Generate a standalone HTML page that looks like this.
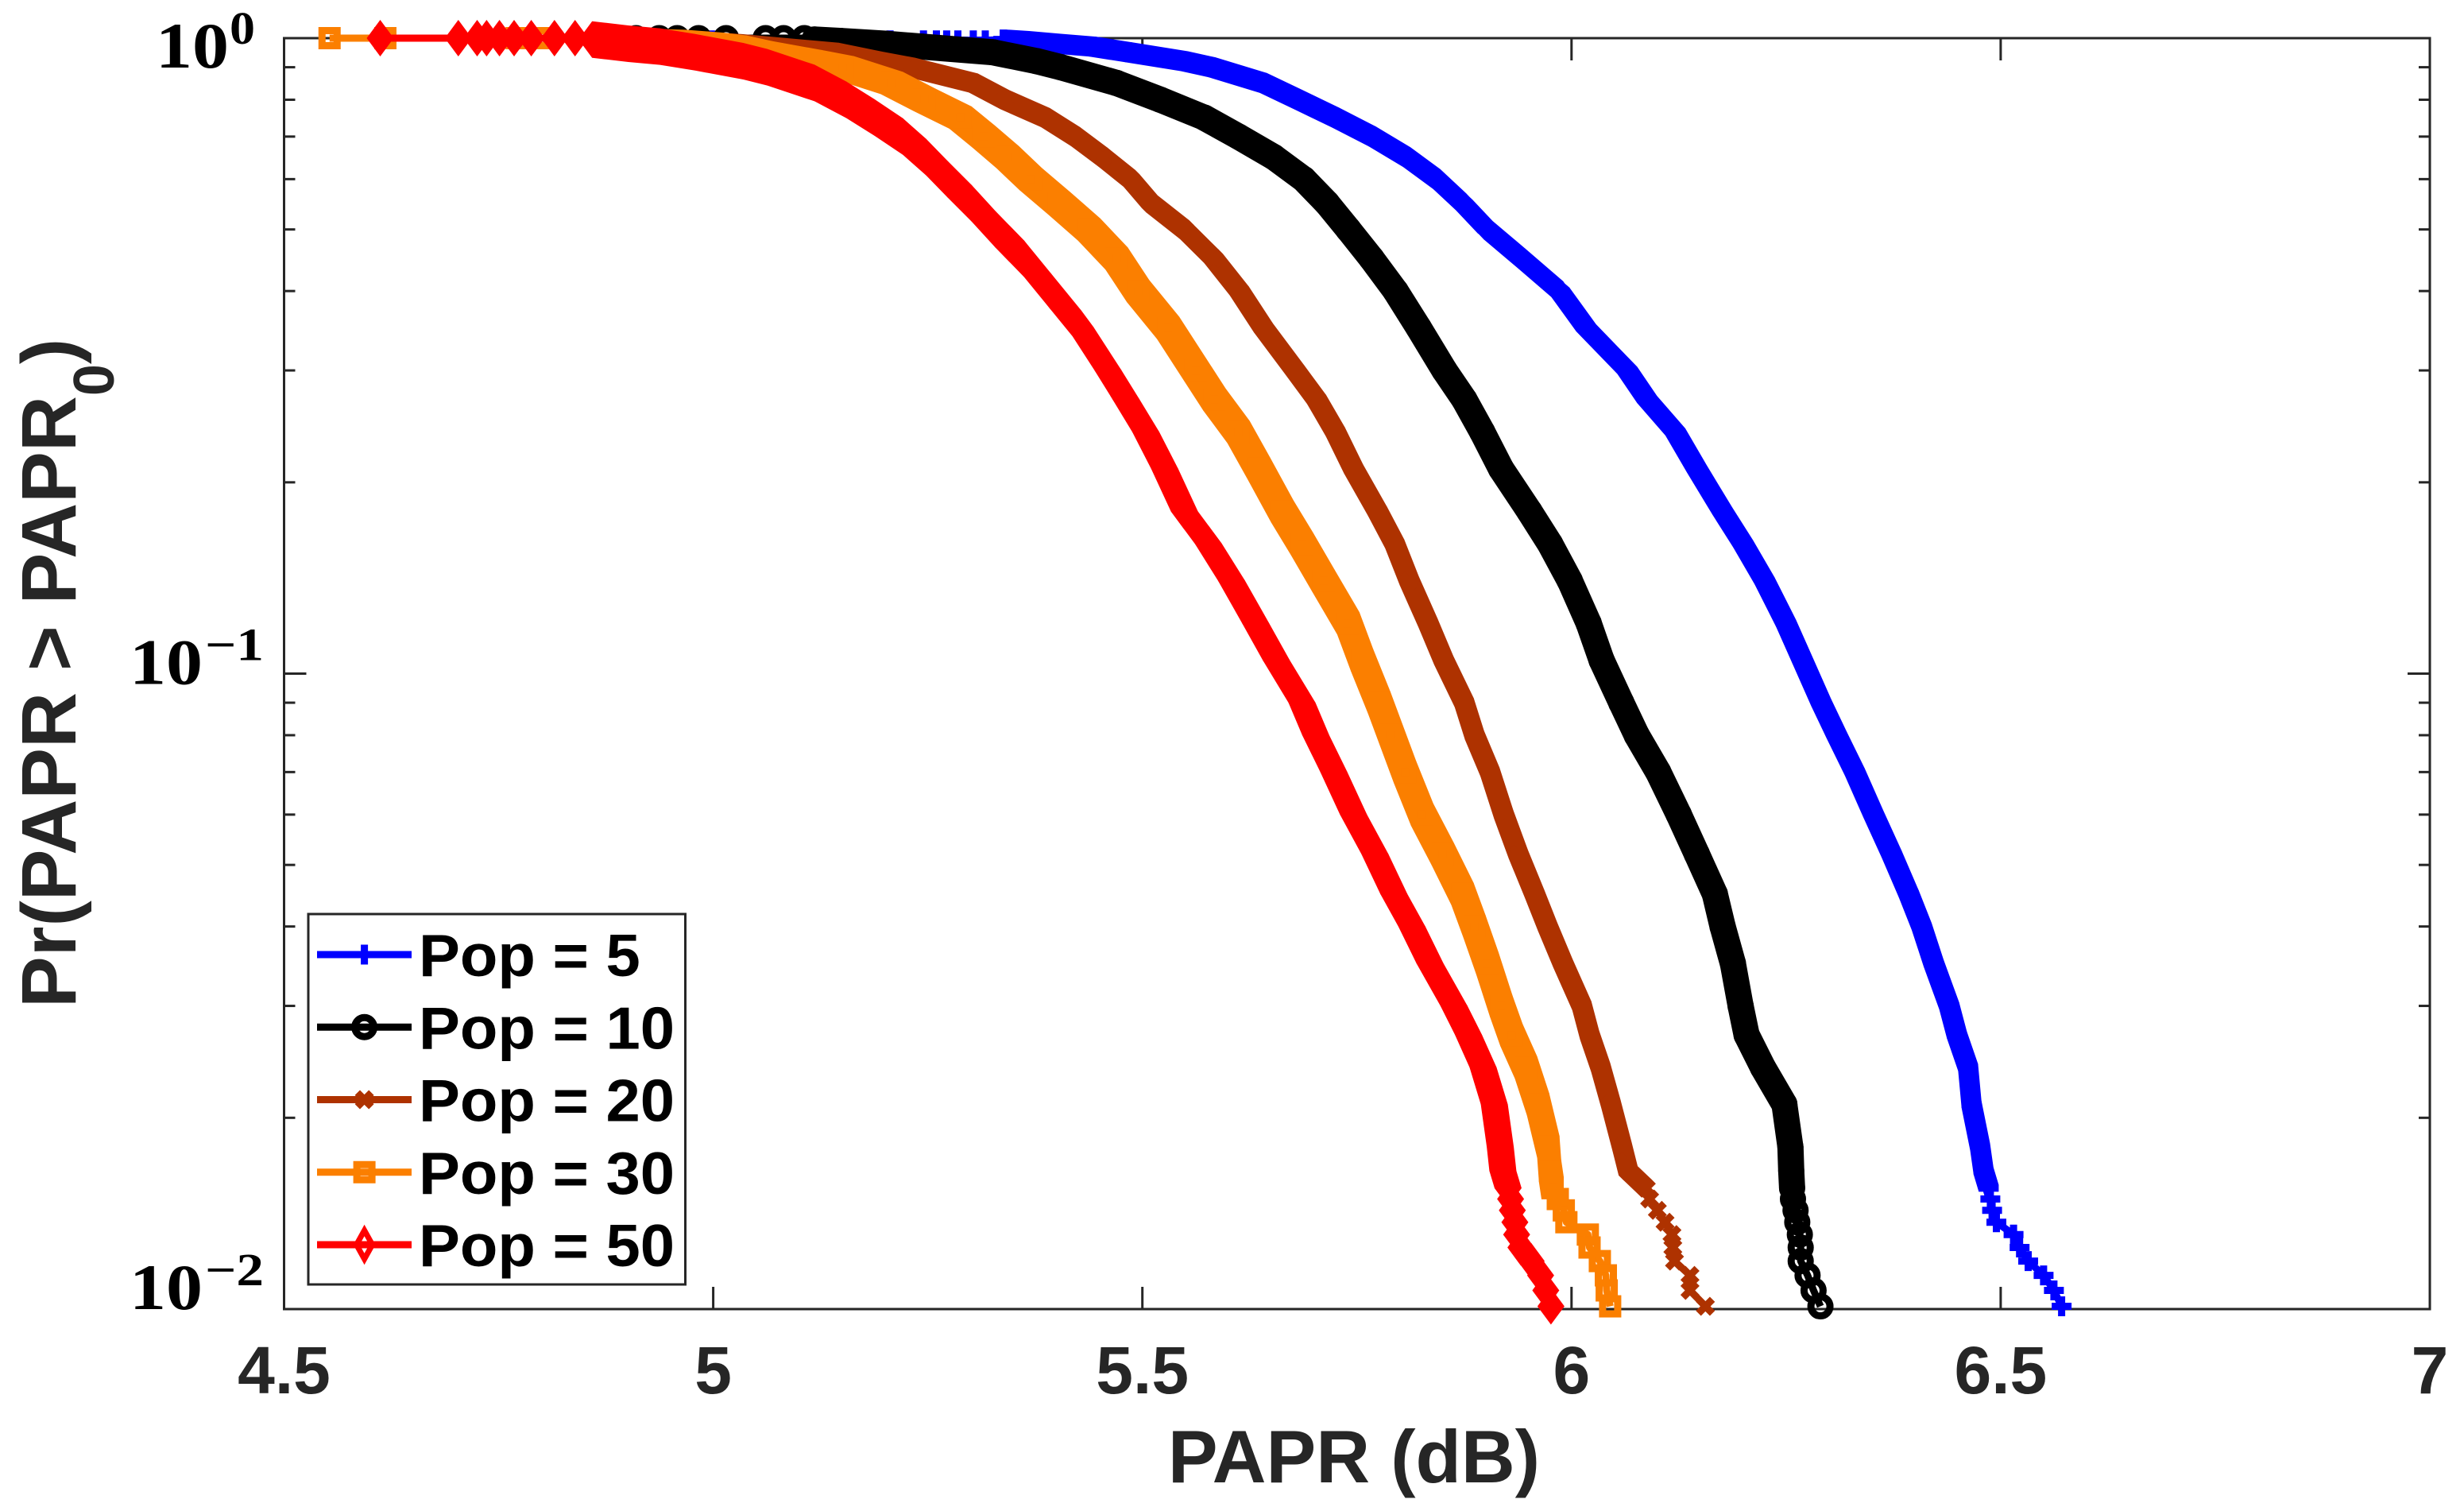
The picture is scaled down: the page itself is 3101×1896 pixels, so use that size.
<!DOCTYPE html>
<html>
<head>
<meta charset="utf-8">
<title>PAPR CCDF</title>
<style>
html,body{margin:0;padding:0;background:#fff;}
svg{display:block;}
text{font-family:"Liberation Sans",sans-serif;font-weight:bold;}
.serif{font-family:"Liberation Serif",serif;font-weight:bold;}
</style>
</head>
<body>
<svg id="chart" xmlns="http://www.w3.org/2000/svg" width="3101" height="1896" viewBox="0 0 3101 1896">
<rect x="0" y="0" width="3101" height="1896" fill="#fff"/>
<g id="axes"></g>
<g id="series"></g>
<g id="legend"></g>
<text x="1704" y="1865" font-size="94" fill="#262626" text-anchor="middle">PAPR (dB)</text>
<text transform="translate(95,1268) rotate(-90)" font-size="97" fill="#262626">Pr(PAPR &gt; PAPR<tspan dy="48" font-size="72">0</tspan><tspan dy="-48">)</tspan></text>
</svg>
<script>
// Chart data (probability levels are shared; PAPR values in dB)
const probLevels = [0.995,0.99,0.98,0.97,0.95,0.92,0.9,0.85,0.8,0.75,0.7,0.65,0.6,0.55,0.5,0.45,0.4,0.35,0.3,0.27,0.24,0.21,0.18,0.16,0.14,0.12,0.105,0.09,0.08,0.07,0.06,0.052,0.045,0.04,0.035,0.03,0.027,0.024,0.021,0.018,0.0165,0.0155,0.0149,0.0143,0.0137,0.0131,0.0125,0.0119,0.0113,0.0107,0.0101];
const paprPop5 = [5.338,5.364,5.401,5.442,5.484,5.549,5.581,5.641,5.682,5.725,5.768,5.808,5.843,5.873,5.902,5.942,5.986,6.017,6.065,6.088,6.121,6.146,6.176,6.200,6.225,6.250,6.269,6.291,6.309,6.330,6.352,6.373,6.393,6.408,6.422,6.440,6.449,6.462,6.466,6.476,6.480,6.486,6.488,6.490,6.495,6.515,6.522,6.532,6.550,6.562,6.571];
const paprPop10 = [5.118,5.148,5.201,5.243,5.326,5.377,5.405,5.470,5.521,5.572,5.612,5.653,5.688,5.715,5.740,5.767,5.795,5.822,5.852,5.875,5.896,5.918,5.951,5.975,5.998,6.020,6.035,6.058,6.076,6.101,6.125,6.146,6.167,6.176,6.188,6.197,6.204,6.223,6.248,6.255,6.256,6.257,6.258,6.261,6.263,6.266,6.267,6.267,6.275,6.282,6.290];
const paprPop20 = [4.947,4.984,5.030,5.067,5.141,5.192,5.230,5.303,5.340,5.387,5.422,5.454,5.486,5.510,5.549,5.583,5.613,5.641,5.678,5.703,5.725,5.746,5.774,5.794,5.811,5.833,5.851,5.875,5.887,5.905,5.921,5.938,5.957,5.972,5.990,6.012,6.021,6.034,6.046,6.059,6.066,6.087,6.091,6.100,6.109,6.117,6.118,6.120,6.138,6.138,6.156];
const paprPop30 = [4.901,4.956,4.998,5.026,5.056,5.114,5.151,5.208,5.246,5.288,5.315,5.343,5.370,5.403,5.438,5.470,5.495,5.530,5.562,5.584,5.612,5.636,5.663,5.686,5.711,5.740,5.756,5.776,5.790,5.806,5.826,5.850,5.873,5.887,5.902,5.918,5.930,5.947,5.961,5.973,5.975,5.978,5.984,5.991,5.994,6.019,6.021,6.033,6.040,6.041,6.045];
const paprPop50 = [4.859,4.873,4.901,4.938,4.979,5.035,5.063,5.118,5.155,5.188,5.221,5.248,5.273,5.301,5.329,5.362,5.393,5.428,5.460,5.481,5.504,5.526,5.549,5.577,5.604,5.632,5.656,5.686,5.702,5.723,5.746,5.771,5.793,5.814,5.835,5.863,5.880,5.897,5.910,5.917,5.920,5.926,5.929,5.931,5.934,5.936,5.941,5.953,5.964,5.970,5.976];
// Sparse leading samples at the top of each curve
const headPop5 = [4.998,5.136,5.206,5.245,5.260,5.272,5.285,5.303,5.317];
const headPop10 = [4.910,4.937,4.958,4.983,5.015,5.061,5.082,5.106];
const headPop20 = [4.873,4.900];
const headPop30 = [4.553,4.618,4.771,4.797];
const headPop50 = [4.612,4.703,4.725,4.736,4.751,4.768,4.788,4.815,4.839];
const headProbPop5 = 0.992;
const headProbOthers = 1;
const tailProb = 0.0155;
const seriesLabels = ["Pop = 5","Pop = 10","Pop = 20","Pop = 30","Pop = 50"];
const seriesKeys = ["pop-5","pop-10","pop-20","pop-30","pop-50"];
const seriesColors = ["#0000ff","#000000","#ae3200","#fb7f00","#ff0000"];
const seriesMarkers = ["plus","circle","cross","square","diamond"];
const xTickValues = [4.5,5,5.5,6,6.5,7];
const xTickLabels = ["4.5","5","5.5","6","6.5","7"];
const yDecades = [0,-1,-2];
const yMinorMultipliers = [2,3,4,5,6,7,8,9];

// Axis functions
const AX = {left:357.5,right:3058,top:48,bottom:1647};
const xScale = v => AX.left + (v-4.5)*(AX.right-AX.left)/2.5;
const yScale = p => AX.top - Math.log10(p)*(AX.bottom-AX.top)/2;

const NS = "http://www.w3.org/2000/svg";
function mk(tag,parent,attrs){
  const el = document.createElementNS(NS,tag);
  for(const k in attrs){ el.setAttribute(k,attrs[k]); }
  parent.appendChild(el);
  return el;
}
const axes = document.getElementById("axes");
const AXC = "#262626";

// Axis frame
const frame = mk("rect",axes,{x:AX.left,y:AX.top,width:AX.right-AX.left,height:AX.bottom-AX.top,fill:"none",stroke:AXC,"stroke-width":3});



// X ticks and labels
xTickValues.forEach((v,i)=>{
  const px = xScale(v);
  const t1 = mk("line",axes,{x1:px,x2:px,y1:AX.bottom,y2:AX.bottom-28,stroke:AXC,"stroke-width":3});
  
  
  const t2 = mk("line",axes,{x1:px,x2:px,y1:AX.top,y2:AX.top+28,stroke:AXC,"stroke-width":3});
  
  
  const lb = mk("text",axes,{x:px,y:1753,"font-size":84,fill:AXC,"text-anchor":"middle"});
  
  
  lb.textContent = xTickLabels[i];
});

// Y ticks and labels
function yTick(py,len,name){
  const a = mk("line",axes,{x1:AX.left,x2:AX.left+len,y1:py,y2:py,stroke:AXC,"stroke-width":3});
  
  
  const b = mk("line",axes,{x1:AX.right,x2:AX.right-len,y1:py,y2:py,stroke:AXC,"stroke-width":3});
  
  
}
yDecades.forEach(d=>{
  const py = yScale(Math.pow(10,d));
  yTick(py,28,'y-tick-major');
  if(d>-2){
    yMinorMultipliers.forEach(m=>{ yTick(yScale(m*Math.pow(10,d-1)),14,'y-tick-minor'); });
  }
  const base = py + (d===0?37:(d===-1?13:0));
  const main = mk("text",axes,{class:"serif",x:d===0?196:163,y:base,"font-size":82,fill:"#000",textLength:92,lengthAdjust:"spacingAndGlyphs"});
  
  
  main.textContent = "10";
  const exp = mk("text",axes,{class:"serif",x:d===0?289:258,y:base-30,"font-size":58,fill:"#000",textLength:d===0?32:74,lengthAdjust:"spacingAndGlyphs"});
  
  
  exp.textContent = d===0 ? "0" : "\u2212"+Math.abs(d);
});

// Marker geometry: convex pieces used for the sweep of densely overlapping markers
const pieces = {
  plus:[[[-12.5,-4.5],[12.5,-4.5],[12.5,4.5],[-12.5,4.5]],[[-4.5,-12.5],[4.5,-12.5],[4.5,12.5],[-4.5,12.5]]],
  cross:[[[-5.6,-12],[12,5.6],[5.6,12],[-12,-5.6]],[[5.6,-12],[12,-5.6],[-5.6,12],[-12,5.6]]],
  square:[[[-14,-14],[14,-14],[14,14],[-14,14]]],
  diamond:[[[0,-23],[17,0],[0,23],[-17,0]]],
  circle:[Array.from({length:24},(_,i)=>[16.5*Math.cos(i*Math.PI/12),16.5*Math.sin(i*Math.PI/12)])]
};
function hull(pts){
  const s = pts.slice().sort((a,b)=>a[0]-b[0]||a[1]-b[1]);
  const cross = (o,a,b)=>(a[0]-o[0])*(b[1]-o[1])-(a[1]-o[1])*(b[0]-o[0]);
  const lo=[],up=[];
  for(const p of s){ while(lo.length>1&&cross(lo[lo.length-2],lo[lo.length-1],p)<=0) lo.pop(); lo.push(p); }
  for(const p of s.slice().reverse()){ while(up.length>1&&cross(up[up.length-2],up[up.length-1],p)<=0) up.pop(); up.push(p); }
  return lo.slice(0,-1).concat(up.slice(0,-1));
}
function polyD(poly){ return "M"+poly.map(p=>p[0].toFixed(1)+" "+p[1].toFixed(1)).join("L")+"Z"; }
function sweepD(kind,a,b){
  let d="";
  for(const piece of pieces[kind]){
    const pts=[];
    for(const v of piece){ pts.push([a[0]+v[0],a[1]+v[1]]); pts.push([b[0]+v[0],b[1]+v[1]]); }
    d+=polyD(hull(pts));
  }
  return d;
}
function drawMarker(parent,kind,cx,cy,color,inLegend){
  let el;
  if(kind==="circle"){
    el = mk("circle",parent,{cx:cx,cy:cy,r:12,fill:"none",stroke:color,"stroke-width":9});
  }else if(kind==="square"){
    el = mk("rect",parent,{x:cx-9.5,y:cy-9.5,width:19,height:19,fill:"none",stroke:color,"stroke-width":9});
  }else if(kind==="diamond" && inLegend){
    el = mk("path",parent,{d:polyD([[cx,cy-18],[cx+10,cy],[cx,cy+18],[cx-10,cy]]),fill:"none",stroke:color,"stroke-width":7,"stroke-miterlimit":10});
  }else{
    el = mk("path",parent,{d:pieces[kind].map(pc=>polyD(pc.map(v=>[cx+v[0],cy+v[1]]))).join(""),fill:color});
  }
  return el;
}

// Series
const seriesRoot = document.getElementById("series");
const paprSeries = [paprPop5,paprPop10,paprPop20,paprPop30,paprPop50];
const headSeries = [headPop5,headPop10,headPop20,headPop30,headPop50];
paprSeries.forEach((vals,si)=>{
  const color = seriesColors[si], kind = seriesMarkers[si];
  const g = mk("g",seriesRoot,{});
  
  
  const headP = si===0 ? headProbPop5 : headProbOthers;
  const head = headSeries[si].map(v=>[xScale(v),yScale(headP)]);
  const dense = vals.map((v,i)=>[xScale(v),yScale(probLevels[i])]);
  const all = head.concat(dense);
  const line = mk("path",g,{d:"M"+all.map(p=>p[0].toFixed(1)+" "+p[1].toFixed(1)).join("L"),fill:"none",stroke:color,"stroke-width":9,"stroke-linejoin":"round"});
  
  
  let band = "";
  for(let i=0;i+1<dense.length;i++){
    if(probLevels[i+1] >= tailProb){ band += sweepD(kind,dense[i],dense[i+1]); }
  }
  const bandEl = mk("path",g,{d:band,fill:color,"fill-rule":"nonzero"});
  
  
  all.forEach(p=>{
    const m = drawMarker(g,kind,p[0],p[1],color,false);
    
    
  });
});

// Legend
const legend = document.getElementById("legend");
const box = mk("rect",legend,{x:388,y:1150,width:474.5,height:466,fill:"#fff",stroke:AXC,"stroke-width":3});


seriesLabels.forEach((lab,i)=>{
  const ly = 1201 + 91.25*i;
  const eg = mk("g",legend,{});
  
  
  const ln = mk("line",eg,{x1:399,x2:518,y1:ly,y2:ly,stroke:seriesColors[i],"stroke-width":9});
  
  
  const mm = drawMarker(eg,seriesMarkers[i],458.6,ly,seriesColors[i],true);
  
  
  const tx = mk("text",eg,{x:527,y:1228+91.25*i,"font-size":75,fill:"#000"});
  
  
  tx.textContent = lab;
  tx.setAttribute("textLength", (tx.getComputedTextLength()*1.037).toFixed(1));
  tx.setAttribute("lengthAdjust", "spacingAndGlyphs");
});
</script>
</body>
</html>
